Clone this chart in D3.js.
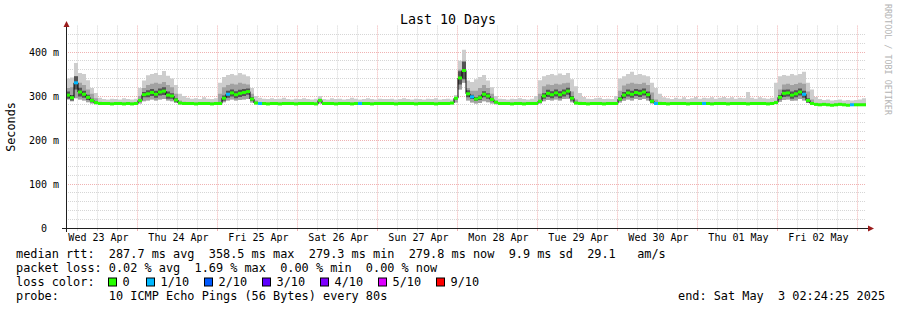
<!DOCTYPE html>
<html>
<head>
<meta charset="utf-8">
<script src="https://cdn.jsdelivr.net/npm/d3@7"></script>
<style>
body{margin:0;background:#ffffff;}
svg{display:block;}
text{font-family:"DejaVu Sans Mono",monospace;white-space:pre;fill:#000;}
</style>
</head>
<body>
<svg id="chart" width="897" height="310" xml:space="preserve"></svg>
<script>

// one value per 1.2 h step, one row per day (Apr 23 02:24 -> May 03 02:24)
const median_rtt = [
	302,296,330,309,304,297,290,285,283,283,283,282,283,283,282,283,282,283,290,303,
	305,308,304,309,311,302,300,291,284,283,283,283,282,283,283,283,282,283,283,295,
	304,307,303,306,308,310,293,284,283,283,282,283,283,282,283,283,283,282,283,283,
	283,283,282,290,283,283,283,282,283,283,283,282,283,283,283,283,282,283,283,283,
	283,283,282,283,283,283,283,282,283,283,283,283,282,283,283,283,284,295,341,358,
	305,298,293,296,304,300,292,286,283,283,283,282,283,283,282,283,283,283,288,300,
	306,303,307,303,307,311,295,284,283,283,282,283,283,283,282,283,283,283,293,302,
	307,304,308,306,309,303,288,283,283,283,282,283,283,283,283,282,283,283,283,283,
	283,282,283,283,283,282,283,283,283,283,282,283,283,283,283,282,283,285,297,306,
	307,302,305,309,304,290,283,281,280,281,280,279,280,281,280,279,280,280,280,280
];

// slowest ping of each step (top of the smoke)
const smoke_hi = [
	340,342,375,352,350,336,318,307,296,293,292,294,293,292,295,293,292,294,318,335,
	347,350,352,348,357,346,340,325,305,300,296,294,295,293,297,294,293,295,330,343,
	348,350,347,352,349,345,318,300,296,294,293,295,293,294,296,293,292,294,293,295,
	293,292,294,300,293,292,295,293,294,292,293,296,294,292,293,295,293,292,294,293,
	293,294,292,293,295,293,292,294,293,292,294,293,295,292,293,294,292,302,380,405,
	335,332,338,343,348,335,320,300,294,293,292,294,293,295,293,292,294,300,336,345,
	348,350,347,351,348,352,338,322,307,298,294,293,295,296,293,294,293,300,340,345,
	350,355,348,350,347,345,330,318,305,297,295,293,296,294,297,293,295,298,294,296,
	295,297,294,296,298,295,297,294,296,295,309,296,294,297,295,294,296,330,345,348,
	346,350,347,350,355,330,315,298,293,291,292,290,291,292,290,291,290,291,292,295
];

// upper edge of the inner pings
const smoke_mid = [
	318,320,345,330,325,315,305,295,287,286,286,285,286,286,285,286,285,286,300,318,
	325,328,330,328,332,325,320,305,290,287,286,286,285,286,286,286,285,286,305,320,
	325,328,326,330,328,326,305,290,286,286,285,286,286,285,286,286,286,285,286,286,
	286,286,285,294,286,286,286,285,286,286,286,285,286,286,286,286,285,286,286,286,
	286,286,285,286,286,286,286,285,286,286,286,286,285,286,286,286,286,298,360,380,
	318,312,312,318,325,318,305,290,286,286,286,285,286,286,285,286,286,286,305,322,
	326,325,328,326,329,330,310,292,287,286,285,286,286,286,285,286,286,286,312,324,
	328,330,328,327,330,325,308,292,287,286,285,286,286,286,286,285,286,286,286,286,
	286,285,286,286,286,285,286,286,286,286,285,286,286,286,286,285,286,289,315,326,
	328,325,327,330,328,310,292,284,283,284,283,282,283,284,283,282,283,283,283,283
];

// fastest ping of each step (bottom of the smoke)
const smoke_lo = [
	292,288,295,292,290,286,283,281,281,281,281,280,281,281,280,281,280,281,283,288,
	290,292,290,292,293,290,288,284,281,281,281,281,280,281,281,281,280,281,281,286,
	290,292,290,291,292,293,285,281,281,281,280,281,281,280,281,281,281,280,281,281,
	281,281,280,283,281,281,281,280,281,281,281,280,281,281,281,281,280,281,281,281,
	281,281,280,281,281,281,281,280,281,281,281,281,280,281,281,281,281,285,315,330,
	290,285,283,284,288,286,283,281,281,281,281,280,281,281,280,281,281,281,283,288,
	291,290,292,290,293,294,286,281,281,281,280,281,281,281,280,281,281,281,285,289,
	292,290,293,291,293,290,283,281,281,281,280,281,281,281,281,280,281,281,281,281,
	281,280,281,281,281,280,281,281,281,281,280,281,281,281,281,280,281,282,287,291,
	292,289,290,293,290,284,281,279,278,279,278,277,278,279,278,277,278,278,278,278
];

// spread of the pings closest to the median (ms either side)
const smoke_dark = [
	8,6,15,10,8,6,4,2,0,0,0,0,0,0,0,0,0,0,3,6,
	8,8,8,8,9,8,6,4,1,0,0,0,0,0,0,0,0,0,3,6,
	8,8,8,8,8,7,4,1,0,0,0,0,0,0,0,0,0,0,0,0,
	0,0,0,2,0,0,0,0,0,0,0,0,0,0,0,0,0,0,0,0,
	0,0,0,0,0,0,0,0,0,0,0,0,0,0,0,0,0,3,15,20,
	8,5,4,5,7,6,4,1,0,0,0,0,0,0,0,0,0,0,3,6,
	8,8,8,8,8,8,5,1,0,0,0,0,0,0,0,0,0,0,4,7,
	8,8,8,8,8,7,4,1,0,0,0,0,0,0,0,0,0,0,0,0,
	0,0,0,0,0,0,0,0,0,0,0,0,0,0,0,0,0,1,5,8,
	8,8,8,8,8,5,1,0,0,0,0,0,0,0,0,0,0,0,0,0
];

// steps that lost pings: [step, lost of 10]
const loss_points = [[2,1],[40,1],[48,1],[73,1],[101,1],[147,1],[159,1],[184,1],[196,1]];

const loss_labels = ['0','1/10','2/10','3/10','4/10','5/10','9/10'];
const loss_levels = [0,1,2,3,4,5,9];
const loss_colors = ['#26ff00','#00b8ff','#0059ff','#5e00ff','#7e00ff','#dd00ff','#ff0000'];

const y_ticks = [0,100,200,300,400];

const legend_lines = [
	'median rtt:  287.7 ms avg  358.5 ms max  279.3 ms min  279.8 ms now  9.9 ms sd  29.1   am/s',
	'packet loss: 0.02 % avg  1.69 % max  0.00 % min  0.00 % now',
	'loss color:',
	'probe:       10 ICMP Echo Pings (56 Bytes) every 80s'
];

const svg = d3.select('#chart');
const plot_left = 66, plot_right = 866, plot_bottom = 228, plot_top = 25.6, y_max = 460;
const grid_minor = '#d6d6d6', grid_major = '#f0b2b2';

const t_start = new Date(Date.UTC(2025,3,23,2,24,25));
const t_end = new Date(Date.UTC(2025,4,3,2,24,25));
const step_ms = (t_end - t_start) / median_rtt.length;

const x = d3.scaleUtc().domain([t_start,t_end]).range([plot_left,plot_right]);
const y = d3.scaleLinear().domain([0,y_max]).range([plot_bottom,plot_top]);
const crisp = v => Math.floor(v) + 0.5;

// build the step records
const loss_map = new Map(loss_points);
const pts = median_rtt.map((m,i) => ({
	t: new Date(+t_start + i*step_ms),
	t1: new Date(+t_start + (i+1)*step_ms),
	med: m, hi: smoke_hi[i], mid: smoke_mid[i], lo: smoke_lo[i], dk: smoke_dark[i],
	loss: loss_map.get(i) || 0
}));
const last = pts[pts.length-1];
const pts_ext = pts.concat([Object.assign({}, last, {t: last.t1})]);

// grid
const grid = svg.append('g').attr('class','grid');
const hours6 = d3.utcHour.every(6).range(t_start, t_end);

d3.range(20, y_max, 20).forEach(v => {
	grid.append('line')
		.attr('x1',plot_left).attr('x2',plot_right)
		.attr('y1',crisp(y(v))).attr('y2',crisp(y(v)))
		.attr('stroke', v % 100 === 0 ? grid_major : grid_minor)
		.attr('stroke-dasharray','1,1')
});

hours6.forEach(t => {
	const major = t.getUTCHours() === 0;
	grid.append('line')
		.attr('x1',crisp(x(t))).attr('x2',crisp(x(t)))
		.attr('y1',plot_top).attr('y2',plot_bottom)
		.attr('stroke', major ? grid_major : grid_minor)
		.attr('stroke-dasharray','1,1')
	grid.append('line')
		.attr('x1',crisp(x(t))).attr('x2',crisp(x(t)))
		.attr('y1',plot_bottom+1).attr('y2',plot_bottom+3)
		.attr('stroke', major ? grid_major : grid_minor)
});

// smoke
const band = (lo,hi) => d3.area()
	.x(d => x(d.t))
	.y0(lo).y1(hi)
	.curve(d3.curveStepAfter);

svg.append('path').datum(pts_ext)
	.attr('d', band(d => y(d.lo), d => y(d.hi)))
	.attr('fill','#cdcdcd');
svg.append('path').datum(pts_ext)
	.attr('d', band(d => y(d.lo), d => y(d.mid)))
	.attr('fill','#a2a2a2');
svg.append('path').datum(pts_ext)
	.attr('d', band(d => y(d.med - d.dk), d => y(d.med + d.dk)))
	.attr('fill','#545454');

// median line, black joins then loss coloured steps
svg.append('path').datum(pts_ext)
	.attr('d', d3.line().x(d => x(d.t)).y(d => y(d.med)).curve(d3.curveStepAfter))
	.attr('fill','none')
	.attr('stroke','#000000')
	.attr('stroke-width',1);

svg.append('g').selectAll('line')
		.data(pts)
		.enter()
	.append('line')
		.attr('x1', d => x(d.t)).attr('x2', d => x(d.t1))
		.attr('y1', d => y(d.med)).attr('y2', d => y(d.med))
		.attr('stroke', d => loss_colors[loss_levels.indexOf(d.loss)])
		.attr('stroke-width',3);

// axes
const noons = d3.utcDay.range(d3.utcDay.floor(t_start), t_end)
	.map(d => d3.utcHour.offset(d,12))
	.filter(d => d < t_end);

const x_axis = svg.append('g')
	.attr('transform',`translate(0,${plot_bottom})`)
	.call(d3.axisBottom(x).tickValues(noons).tickFormat(d3.utcFormat('%a %d %b')).tickSize(0).tickPadding(6));
x_axis.select('.domain').remove();
x_axis.selectAll('text').attr('font-size','10px').attr('font-family','DejaVu Sans Mono');

const y_axis = svg.append('g')
	.attr('transform',`translate(${plot_left},0)`)
	.call(d3.axisLeft(y).tickValues(y_ticks).tickFormat(v => v === 0 ? '0  ' : `${v} m`).tickSize(0).tickPadding(7));
y_axis.select('.domain').remove();
y_axis.selectAll('text').attr('font-size','10px').attr('font-family','DejaVu Sans Mono');

svg.append('line')
	.attr('x1',62).attr('x2',869).attr('y1',plot_bottom+0.5).attr('y2',plot_bottom+0.5)
	.attr('stroke','#1f1f1f');
svg.append('line')
	.attr('x1',plot_left+0.5).attr('x2',plot_left+0.5).attr('y1',232).attr('y2',24)
	.attr('stroke','#1f1f1f');
svg.append('path')
	.attr('d',`M868,${plot_bottom-2.5}L874,${plot_bottom+0.5}L868,${plot_bottom+3.5}Z`)
	.attr('fill','#9b1c1c');
svg.append('path')
	.attr('d',`M${plot_left-2.5},27L${plot_left+0.5},21L${plot_left+3.5},27Z`)
	.attr('fill','#9b1c1c');

// titles
svg.append('text')
	.attr('x',448).attr('y',24)
	.attr('text-anchor','middle')
	.attr('font-size','13.3px')
	.text('Last 10 Days');

svg.append('text')
	.attr('transform','translate(15,127) rotate(-90)')
	.attr('text-anchor','middle')
	.attr('font-size','11.8px')
	.text('Seconds');

svg.append('text')
	.attr('transform','translate(885,4) rotate(90)')
	.attr('font-size','8.4px')
	.style('fill','#b4b4b4')
	.text('RRDTOOL / TOBI OETIKER');

// legend
svg.append('g').selectAll('text')
		.data(legend_lines)
		.enter()
	.append('text')
		.attr('x',16)
		.attr('y',(d,i) => 258 + i*14)
		.attr('font-size','11.86px')
		.text(d => d);

const swatch_x = [108,146,204,262,320,378,436];
const swatches = svg.append('g').selectAll('g')
		.data(loss_labels)
		.enter()
	.append('g')
		.attr('transform',(d,i) => `translate(${swatch_x[i]},0)`);
swatches.append('rect')
	.attr('x',0.5).attr('y',278)
	.attr('width',8).attr('height',8)
	.attr('fill',(d,i) => loss_colors[i])
	.attr('stroke','#000000');
swatches.append('text')
	.attr('x',14.5).attr('y',286)
	.attr('font-size','11.86px')
	.text(d => d);

svg.append('text')
	.attr('x',678).attr('y',300)
	.attr('font-size','11.86px')
	.text('end: Sat May  3 02:24:25 2025');

</script>
</body>
</html>
